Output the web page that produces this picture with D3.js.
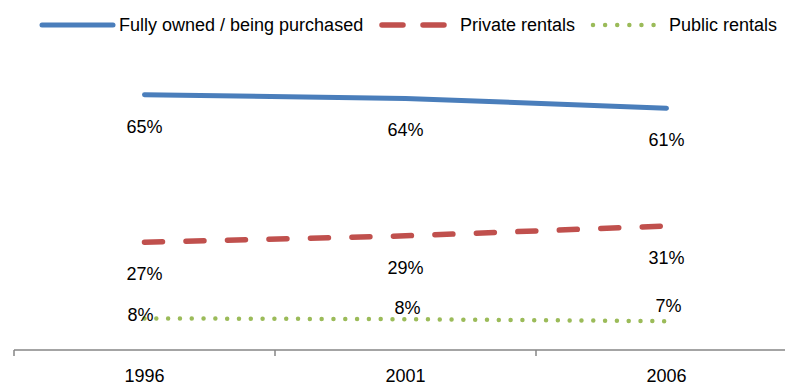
<!DOCTYPE html>
<html>
<head>
<meta charset="utf-8">
<script src="https://cdn.jsdelivr.net/npm/d3@7"></script>
<style>
  html, body { margin: 0; padding: 0; background: #fff; }
  svg { display: block; font-family: "Liberation Sans", Arial, sans-serif; }
</style>
</head>
<body>
<svg id="chart" width="785" height="385"></svg>
<script>
// Census years
const years = ["1996", "2001", "2006"];

// Share of households by tenure (%)
const seriesNames = ["Fully owned / being purchased", "Private rentals", "Public rentals"];
const ownedValues = [64.6, 63.7, 61.2];
const privateValues = [27.3, 28.9, 31.4];
const publicValues = [8.0, 7.8, 7.3];

const svg = d3.select("#chart");

const x = d3.scaleBand().domain(years).range([14, 797]).padding(0);
const y = d3.scaleLinear().domain([0, 70]).range([350, 350 - 3.95 * 70]);

const styles = [
  { color: "#4A7EBB", dash: null, width: 5 },
  { color: "#C0504D", dash: "18 23.5", width: 5.5 },
  { color: "#9BBB59", dash: "0.01 11.8", width: 4.5 }
];

const series = [ownedValues, privateValues, publicValues].map((vals, i) => ({
  name: seriesNames[i],
  style: styles[i],
  points: years.map((yr, j) => ({ year: yr, value: vals[j] }))
}));

// Category axis along the bottom
const axis = d3.axisBottom(x).tickSize(0).tickPadding(0).tickFormat(d => d);
const gx = svg.append("g").attr("transform", "translate(0,350)").call(axis);
gx.select(".domain").remove();
gx.selectAll("text").remove();
gx.append("line")
  .attr("x1", 14).attr("x2", 797).attr("y1", 0).attr("y2", 0)
  .attr("stroke", "#868686").attr("stroke-width", 1.5);
// Tick marks sit on category boundaries
const bounds = years.map(d => x(d)).concat([x(years[years.length - 1]) + x.bandwidth()]);
gx.selectAll(".bound").data(bounds).join("line")
  .attr("class", "bound")
  .attr("x1", d => d).attr("x2", d => d)
  .attr("y1", 0).attr("y2", 6)
  .attr("stroke", "#868686").attr("stroke-width", 1.5);
gx.selectAll(".yr").data(years).join("text")
  .attr("class", "yr")
  .attr("x", d => x(d) + x.bandwidth() / 2)
  .attr("y", 32)
  .attr("text-anchor", "middle")
  .attr("font-size", 18)
  .attr("fill", "#000")
  .text(d => d);

const cx = d => x(d.year) + x.bandwidth() / 2;
const line = d3.line().x(cx).y(d => y(d.value));

svg.selectAll(".series").data(series).join("path")
  .attr("class", "series")
  .attr("d", s => line(s.points))
  .attr("fill", "none")
  .attr("stroke", s => s.style.color)
  .attr("stroke-width", s => s.style.width)
  .attr("stroke-linecap", "round")
  .attr("stroke-linejoin", "round")
  .attr("stroke-dasharray", s => s.style.dash);

// Value labels: below the line for the upper two series, above for public rentals
const fmt = v => d3.format(".0f")(v) + "%";
const publicShift = [[-4, 3], [2, -5], [2, -9]];
series.forEach((s, i) => {
  svg.selectAll(".lbl" + i).data(s.points).join("text")
    .attr("class", "lbl" + i)
    .attr("x", (d, j) => cx(d) + (i === 2 ? publicShift[j][0] : 0))
    .attr("y", (d, j) => y(d.value) + (i === 2 ? publicShift[j][1] : 38))
    .attr("text-anchor", "middle")
    .attr("font-size", 18)
    .attr("fill", "#000")
    .text(d => fmt(d.value));
});

// Legend across the top
const legendItems = [
  { sx: 42, ex: 113, tx: 119 },
  { sx: 382, ex: 447, tx: 460 },
  { sx: 593, ex: 654, tx: 669 }
];
const legendDash = [null, "21 20", "0.01 12.1"];
const lg = svg.append("g");
series.forEach((s, i) => {
  const it = legendItems[i];
  lg.append("line")
    .attr("x1", it.sx).attr("x2", it.ex).attr("y1", 25).attr("y2", 25)
    .attr("stroke", s.style.color)
    .attr("stroke-width", s.style.width)
    .attr("stroke-linecap", "round")
    .attr("stroke-dasharray", legendDash[i]);
  lg.append("text")
    .attr("x", it.tx).attr("y", 31)
    .attr("font-size", 18)
    .attr("fill", "#000")
    .text(s.name);
});
</script>
</body>
</html>
